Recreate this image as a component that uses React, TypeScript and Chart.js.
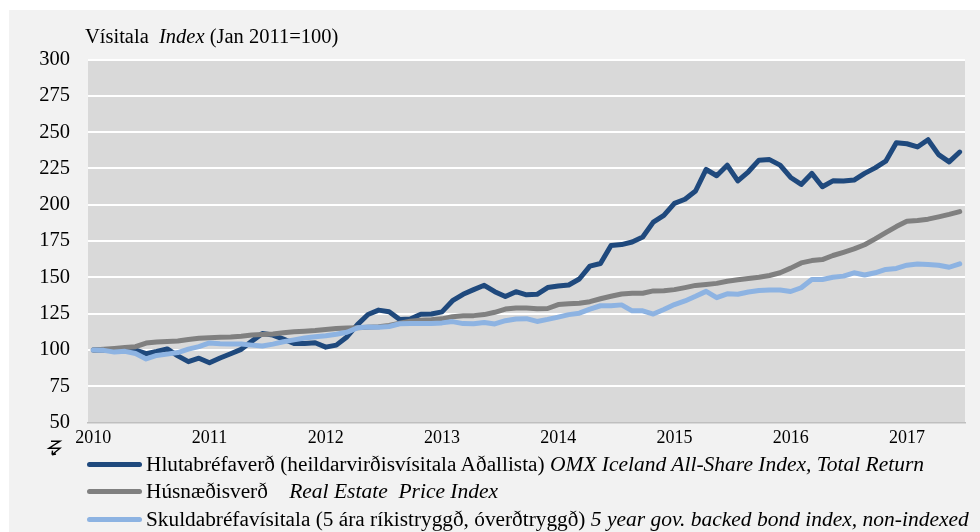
import React, { useEffect, useRef } from "react";
import { Chart, registerables } from "chart.js";

Chart.register(...registerables);

const yearLabels = ["2010", "2011", "2012", "2013", "2014", "2015", "2016", "2017"];
const labelEvery = 11;

const stockIndex = [
  100, 100, 99.5, 99.5, 100, 97.5, 99, 100.8, 96, 92,
  94.4, 91.3, 94.5, 97.5, 100.5, 106, 111.4, 110.3, 107.5, 104.5,
  104.5, 105, 102, 103.4, 109, 117.5, 124.5, 127.5, 126.4, 121,
  121.4, 124.7, 124.8, 126.3, 134, 138.4, 141.6, 144.6, 140.2, 136.8,
  140.2, 138, 138.4, 143, 144.1, 144.8, 148.9, 157.8, 159.6, 172,
  172.6, 174.4, 177.8, 188.1, 192.7, 201, 203.8, 209.5, 224.3, 220,
  227.2, 216.5, 222.7, 230.7, 231.1, 227.3, 218.8, 214, 221.6, 212.4,
  216.5, 216.3, 217, 221.6, 225.4, 230, 242.7, 242, 239.8, 244.8,
  234.5, 229.5, 236.3,
];

const housePrice = [
  100, 100.6, 101.1, 101.7, 102.3, 104.8, 105.6, 105.9, 106.2, 107.3,
  108.1, 108.5, 108.8, 109, 109.5, 110.3, 110.7, 111.1, 111.9, 112.6,
  113, 113.4, 114.2, 114.8, 115.2, 115.4, 115.7, 116, 117, 118.5,
  119.8, 120.6, 120.9, 121.5, 123, 123.6, 123.7, 124.4, 126, 128.2,
  129, 128.9, 128.4, 128.6, 131.3, 131.8, 132.2, 133.3, 135.3, 137,
  138.6, 139.1, 139.1, 140.7, 140.9, 141.6, 143, 144.5, 145.2, 145.9,
  147.4, 148.4, 149.3, 150.1, 151.3, 153.2, 156.4, 160, 161.6, 162.3,
  165.1, 167.3, 169.6, 172.5, 176.5, 180.8, 185, 188.6, 189.2, 190.1,
  191.7, 193.4, 195.3,
];

const bondIndex = [
  100, 99.8, 98.6, 99.1, 97.6, 93.9, 96.3, 97.2, 98.3, 100.6,
  102.4, 104.9, 104.3, 104.1, 104.1, 103.4, 102.8, 104.1, 105.7, 107,
  108.3, 109.2, 109.9, 110.9, 112.3, 115.3, 115.9, 115.7, 116.2, 118.1,
  118.2, 118.2, 118.2, 118.7, 119.6, 118.2, 118.1, 119, 118, 120.2,
  121.4, 121.6, 119.7, 121.1, 122.7, 124.4, 125.4, 128.2, 130.5, 130.5,
  131.1, 127, 127, 124.8, 127.9, 131.3, 133.8, 137, 140.4, 136.1,
  138.7, 138.4, 140, 141, 141.3, 141.3, 140.3, 142.9, 148.6, 148.6,
  150.1, 150.9, 153.2, 151.7, 153.2, 155.5, 156.2, 158.4, 159.3, 158.9,
  158.4, 157, 159.4,
];

const seriesNames = [
  { normal: "Hlutabréfaverð (heildarvirðisvísitala Aðallista)", gap: " ", italic: "OMX Iceland All-Share Index, Total Return" },
  { normal: "Húsnæðisverð", gap: "    ", italic: "Real Estate  Price Index" },
  { normal: "Skuldabréfavísitala (5 ára ríkistryggð, óverðtryggð)", gap: " ", italic: "5 year gov. backed bond index, non-indexed" },
];
const seriesColors = ["#1f497d", "#808080", "#8db3e2"];

const yMin = 50;
const yMax = 300;
const yStep = 25;

const FONT = "'Liberation Serif', 'Times New Roman', serif";
const W = 971;
const H = 522;

export default function App() {
  const canvasRef = useRef<HTMLCanvasElement | null>(null);

  useEffect(() => {
    const canvas = canvasRef.current;
    if (!canvas) return;
    const categories = stockIndex.map((_, i) =>
      i % labelEvery === 0 && yearLabels[i / labelEvery] ? yearLabels[i / labelEvery] : ""
    );

    const bgPlugin = {
      id: "plotBg",
      beforeDraw(chart: any) {
        const { ctx, chartArea } = chart;
        ctx.save();
        ctx.fillStyle = "#d9d9d9";
        ctx.fillRect(chartArea.left, chartArea.top, chartArea.right - chartArea.left, chartArea.bottom - chartArea.top);
        ctx.restore();
      },
      afterDraw(chart: any) {
        // axis-break glyph below the y axis
        const { ctx, chartArea } = chart;
        const x0 = chartArea.left - 40;
        const y0 = chartArea.bottom + 18.5;
        ctx.save();
        ctx.strokeStyle = "#000";
        ctx.lineWidth = 1.4;
        ctx.lineJoin = "miter";
        ctx.beginPath();
        ctx.moveTo(x0 + 3, y0);
        ctx.lineTo(x0 + 12, y0);
        ctx.lineTo(x0 + 1, y0 + 7);
        ctx.lineTo(x0 + 12, y0 + 7);
        ctx.lineTo(x0 + 4, y0 + 13.5);
        ctx.moveTo(x0 + 4, y0 + 13.5);
        ctx.lineTo(x0 + 4.5, y0 + 9.5);
        ctx.moveTo(x0 + 4, y0 + 13.5);
        ctx.lineTo(x0 + 8, y0 + 12.8);
        ctx.stroke();
        ctx.restore();
      },
    };

    const chart = new Chart(canvas, {
      type: "line",
      data: {
        labels: categories,
        datasets: [
          { label: seriesNames[0].normal, data: stockIndex, borderColor: seriesColors[0], backgroundColor: seriesColors[0], order: 2 },
          { label: seriesNames[1].normal, data: housePrice, borderColor: seriesColors[1], backgroundColor: seriesColors[1], order: 1 },
          { label: seriesNames[2].normal, data: bondIndex, borderColor: seriesColors[2], backgroundColor: seriesColors[2], order: 0 },
        ],
      },
      options: {
        animation: false,
        responsive: false,
        devicePixelRatio: 1,
        layout: { padding: { left: 0, top: 49.5, right: 15, bottom: 79.3 } },
        plugins: { legend: { display: false }, tooltip: { enabled: false }, title: { display: false } },
        elements: {
          point: { radius: 0 },
          line: { tension: 0, borderWidth: 5, borderCapStyle: "round", borderJoinStyle: "round", fill: false },
        },
        scales: {
          x: {
            type: "category",
            offset: true,
            grid: { display: false, drawTicks: false },
            border: { display: true, color: "#bfbfbf", width: 1.5 },
            ticks: {
              autoSkip: false,
              maxRotation: 0,
              minRotation: 0,
              padding: 5,
              color: "#000",
              font: { family: FONT, size: 18 },
              callback: (_v: any, i: number) => categories[i],
            },
            afterFit: (s: any) => {
              s.height = 30;
            },
          },
          y: {
            min: yMin,
            max: yMax,
            ticks: { stepSize: yStep, padding: 18, color: "#000", font: { family: FONT, size: 20.5 } },
            grid: {
              drawTicks: false,
              lineWidth: 2,
              color: (ctx: any) => (ctx.tick && ctx.tick.value === yMin ? "rgba(0,0,0,0)" : "#ffffff"),
            },
            border: { display: false },
            afterFit: (s: any) => {
              s.width = 79;
            },
          },
        },
      },
      plugins: [bgPlugin],
    });
    return () => chart.destroy();
  }, []);

  const legendTops = [443.6, 471.1, 498.6];
  const sampleTops = [451.8, 479.3, 506.8];

  return (
    <div
      style={{
        position: "absolute",
        left: 9,
        top: 10,
        width: W,
        height: H,
        background: "#f2f2f2",
        overflow: "hidden",
        fontFamily: FONT,
        color: "#000",
      }}
    >
      <canvas ref={canvasRef} width={W} height={H} style={{ position: "absolute", left: 0, top: 0, width: W, height: H }} />
      <div
        style={{
          position: "absolute",
          left: 76,
          top: 16.3,
          fontSize: 20.5,
          lineHeight: "20.5px",
          whiteSpace: "pre",
        }}
      >
        {"Vísitala  "}
        <i>Index</i>
        {" (Jan 2011=100)"}
      </div>
      {seriesNames.map((s, k) => (
        <React.Fragment key={k}>
          <div
            style={{
              position: "absolute",
              left: 78,
              top: sampleTops[k],
              width: 55,
              height: 5,
              borderRadius: 2.5,
              background: seriesColors[k],
            }}
          />
          <div
            style={{
              position: "absolute",
              left: 137,
              top: legendTops[k],
              fontSize: 21.3,
              lineHeight: "21.3px",
              whiteSpace: "pre",
            }}
          >
            {s.normal}
            {s.gap}
            <i style={{ fontSize: 21.5 }}>{s.italic}</i>
          </div>
        </React.Fragment>
      ))}
    </div>
  );
}
